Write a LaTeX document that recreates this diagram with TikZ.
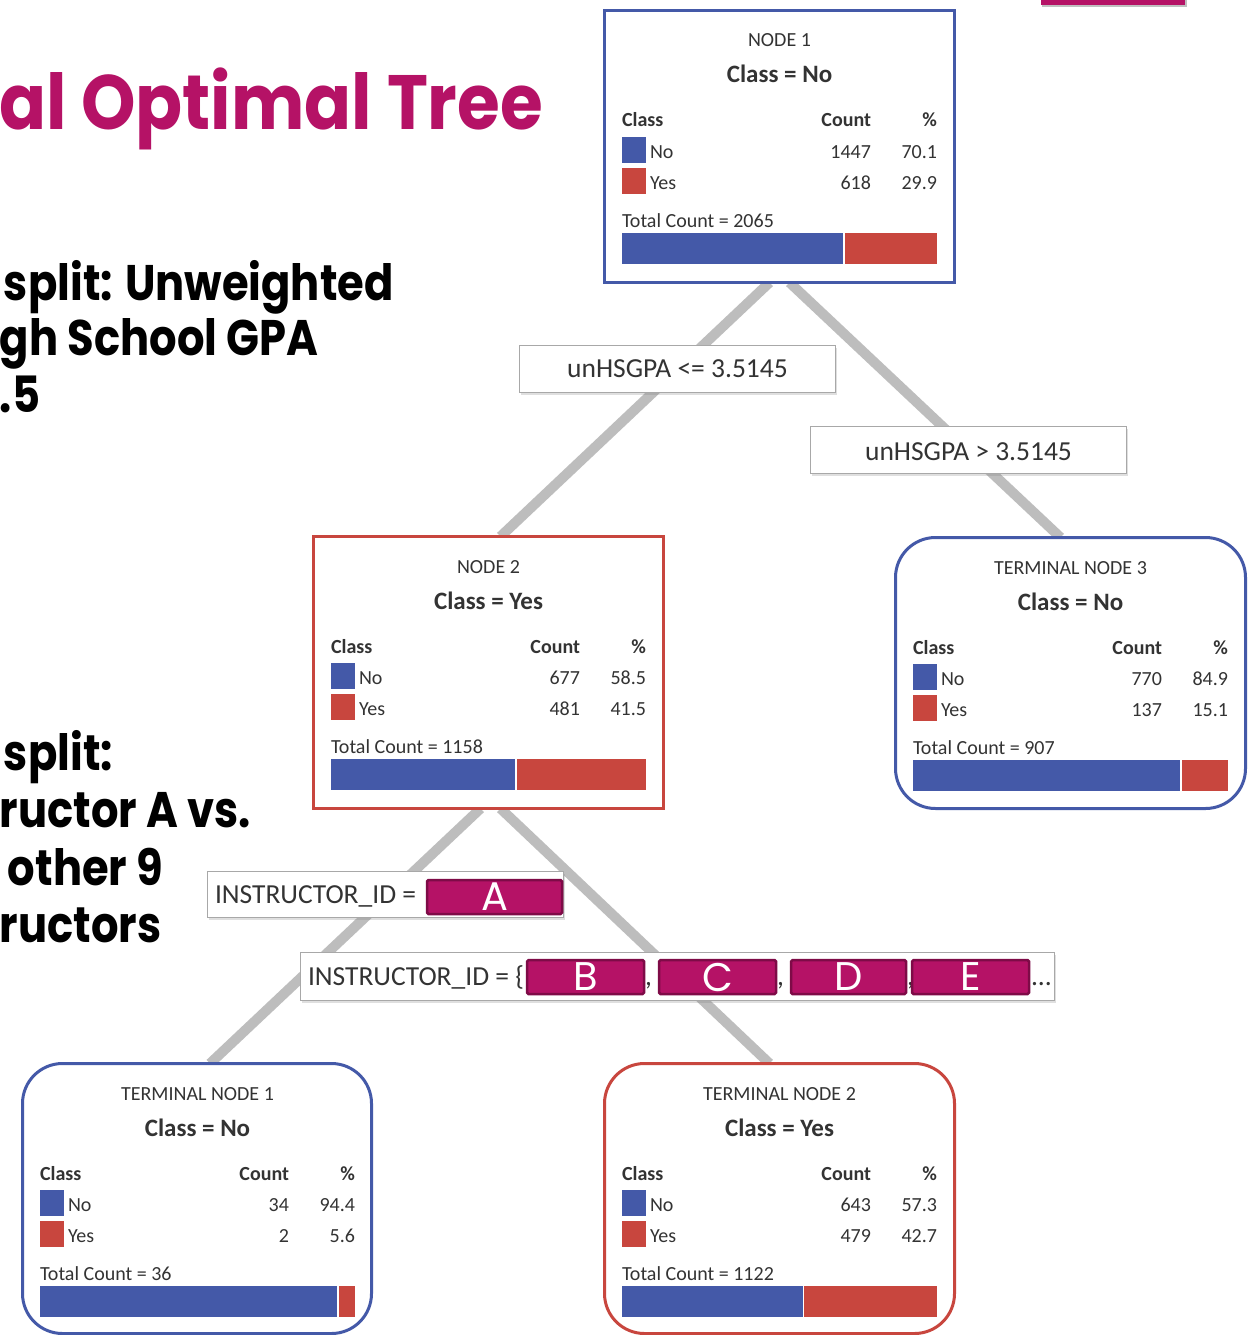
\documentclass[tikz,border=0pt]{standalone}
\usepackage{fontspec}
\setmainfont{Carlito}
\newfontfamily\geofont{Poppins}
\usetikzlibrary{backgrounds,shadows}

\definecolor{nodeblue}{HTML}{4459A8}
\definecolor{nodered}{HTML}{C8463E}
\definecolor{brand}{HTML}{B51266}
\definecolor{branddark}{HTML}{7E0B47}
\definecolor{edgegray}{HTML}{BDBDBD}
\definecolor{labelgray}{HTML}{A8A8A8}
\definecolor{ink}{HTML}{333333}

\tikzset{
  every node/.style={inner sep=0pt, outer sep=0pt},
  panelbox/.style={draw, line width=3pt, fill=white},
  bluepanel/.style={panelbox, draw=nodeblue},
  redpanel/.style={panelbox, draw=nodered},
  leafshape/.style={rounded corners=40pt},
  edge/.style={draw=edgegray, line width=10pt},
  splitlabel/.style={draw=labelgray, line width=1.6pt, fill=white,
    drop shadow={shadow xshift=1.5pt, shadow yshift=-2pt, opacity=0.25, fill=black!50}},
  splittext/.style={text=ink, font=\fontsize{27.5}{32}\selectfont},
  letterbox/.style={draw=branddark, line width=2.5pt, fill=brand, rounded corners=1.5pt,
    text=white, font=\geofont\fontsize{40}{44}\selectfont},
  nodetitle/.style={text=ink, font=\fontsize{20}{24}\selectfont},
  nodeclass/.style={text=ink, font=\bfseries\fontsize{25}{30}\selectfont},
  cell/.style={text=ink, font=\fontsize{20}{24}\selectfont},
  headline/.style={text=brand, font=\geofont\bfseries\fontsize{77}{80}\selectfont},
  sidetext/.style={text=black, font=\geofont\bfseries\fontsize{50}{56}\selectfont},
}

% horizontally narrowed geometric lettering
\newcommand\narrowhead[1]{\scalebox{0.9}[1]{#1}}
\newcommand\narrowside[1]{\scalebox{0.865}[1]{#1}}

% Contents of one tree panel, drawn relative to its top-left corner.
% #1 heading, #2 predicted class, #3/#4 No count/%, #5/#6 Yes count/%,
% #7 total, #8 x where the blue part of the bar ends, #9 name prefix
\newcommand\panelbody[9]{%
  \node[nodetitle, anchor=base] (#9-head) at (176.5,38) {#1};
  \node[nodeclass, anchor=base] (#9-class) at (176.5,74) {Class = #2};
  \node[cell, anchor=base west] (#9-hclass) at (19,118) {\bfseries Class};
  \node[cell, anchor=base east] (#9-hcount) at (268,118) {\bfseries Count};
  \node[cell, anchor=base east] (#9-hpct) at (334,118) {\bfseries\%};
  \fill[nodeblue] (19,128) rectangle (43,154);
  \node[cell, anchor=base west] (#9-no) at (47,149) {No};
  \node[cell, anchor=base east] (#9-nocount) at (268,149) {#3};
  \node[cell, anchor=base east] (#9-nopct) at (334,149) {#4};
  \fill[nodered] (19,159) rectangle (43,185);
  \node[cell, anchor=base west] (#9-yes) at (47,180) {Yes};
  \node[cell, anchor=base east] (#9-yescount) at (268,180) {#5};
  \node[cell, anchor=base east] (#9-yespct) at (334,180) {#6};
  \node[cell, anchor=base west] (#9-total) at (19,218) {Total Count = #7};
  \fill[nodeblue] (19,224) rectangle (#8,255);
  \fill[nodered] ({#8+1.5},224) rectangle (334,255);
}

\begin{document}
\begin{tikzpicture}[x=1pt, y=-1pt]
  \useasboundingbox (0,0) rectangle (1253,1335);
  \clip (0,0) rectangle (1253,1335);

  % corner accent bar
  \fill[black!25] (1042,0) rectangle (1187,7);
  \fill[brand] (1041,0) rectangle (1185,5);

  % headline and side notes
  \node[headline, anchor=base east] (headline) at (543,130) {\narrowhead{al Optimal Tree}};
  \node[sidetext, anchor=base west] (s1a) at (4,300) {\narrowside{split: Unweighted}};
  \node[sidetext, anchor=base west] (s1b) at (0,355) {\narrowside{gh School GPA}};
  \node[sidetext, anchor=base west] (s1c) at (0,412) {\narrowside{.5}};
  \node[sidetext, anchor=base west] (s2a) at (4,770) {\narrowside{split:}};
  \node[sidetext, anchor=base west] (s2b) at (0,827) {\narrowside{ructor A vs.}};
  \node[sidetext, anchor=base west] (s2c) at (8,885) {\narrowside{other 9}};
  \node[sidetext, anchor=base west] (s2d) at (0,942) {\narrowside{ructors}};

  % panels
  \node[bluepanel, minimum width=350pt, minimum height=272pt] (n1) at (779.5,146.5) {};
  \node[redpanel, minimum width=350pt, minimum height=272pt] (n2) at (488.5,672.5) {};
  \node[bluepanel, leafshape, minimum width=350pt, minimum height=271pt] (t3) at (1070.5,673) {};
  \node[bluepanel, leafshape, minimum width=349pt, minimum height=270pt] (t1) at (197,1198.5) {};
  \node[redpanel, leafshape, minimum width=350pt, minimum height=270pt] (t2) at (779.5,1198.5) {};

  \begin{scope}[shift={(603,9)}]
    \panelbody{NODE 1}{No}{1447}{70.1}{618}{29.9}{2065}{240}{p1}
  \end{scope}
  \begin{scope}[shift={(312,535)}]
    \panelbody{NODE 2}{Yes}{677}{58.5}{481}{41.5}{1158}{203}{p2}
  \end{scope}
  \begin{scope}[shift={(894,536)}]
    \panelbody{TERMINAL NODE 3}{No}{770}{84.9}{137}{15.1}{907}{286}{p3}
  \end{scope}
  \begin{scope}[shift={(21,1062)}]
    \panelbody{TERMINAL NODE 1}{No}{34}{94.4}{2}{5.6}{36}{316}{p4}
  \end{scope}
  \begin{scope}[shift={(603,1062)}]
    \panelbody{TERMINAL NODE 2}{Yes}{643}{57.3}{479}{42.7}{1122}{199.5}{p5}
  \end{scope}

  % split conditions
  \node[splitlabel, minimum width=316pt, minimum height=47pt] (c1) at (677.5,369) {};
  \node[splittext, anchor=base] (c1t) at (677.5,377) {unHSGPA <= 3.5145};
  \node[splitlabel, minimum width=316pt, minimum height=47pt] (c2) at (968.5,450) {};
  \node[splittext, anchor=base] (c2t) at (968.5,460) {unHSGPA > 3.5145};

  \node[splitlabel, minimum width=356pt, minimum height=46pt] (c3) at (385.5,894.5) {};
  \node[splittext, anchor=base west] (c3t) at (215,903) {INSTRUCTOR\_ID =};
  \node[letterbox, minimum width=135pt, minimum height=34pt] (ia) at (494.5,897) {A};

  \node[splitlabel, minimum width=754pt, minimum height=48pt] (c4) at (677.5,976.5) {};
  \node[splittext, anchor=base west] (c4t) at (308,985) {INSTRUCTOR\_ID = \{};
  \node[splittext, anchor=base west] (k1) at (645,985) {,};
  \node[splittext, anchor=base west] (k2) at (777,985) {,};
  \node[splittext, anchor=base west] (k3) at (907,985) {,};
  \node[splittext, anchor=base west] (k4) at (1031,985) {...};
  \node[letterbox, minimum width=117pt, minimum height=34pt] (ib) at (585.5,977) {B};
  \node[letterbox, minimum width=117pt, minimum height=34pt] (ic) at (717.5,977) {C};
  \node[letterbox, minimum width=115pt, minimum height=34pt] (id) at (848.5,977) {D};
  \node[letterbox, minimum width=117pt, minimum height=34pt] (ie) at (970.5,977) {E};

  % connectors behind everything, on a white page
  \begin{pgfonlayer}{background}
    \fill[white] (0,0) rectangle (1253,1335);
    \draw[edge] ([xshift=-10pt]n1.south) -- ([xshift=12pt]n2.north);
    \draw[edge] ([xshift=10pt]n1.south) -- ([xshift=-10pt]t3.north);
    \draw[edge] ([xshift=-8pt]n2.south) -- ([xshift=13pt]t1.north);
    \draw[edge] ([xshift=12pt]n2.south) -- ([xshift=-10pt]t2.north);
  \end{pgfonlayer}
\end{tikzpicture}
\end{document}
